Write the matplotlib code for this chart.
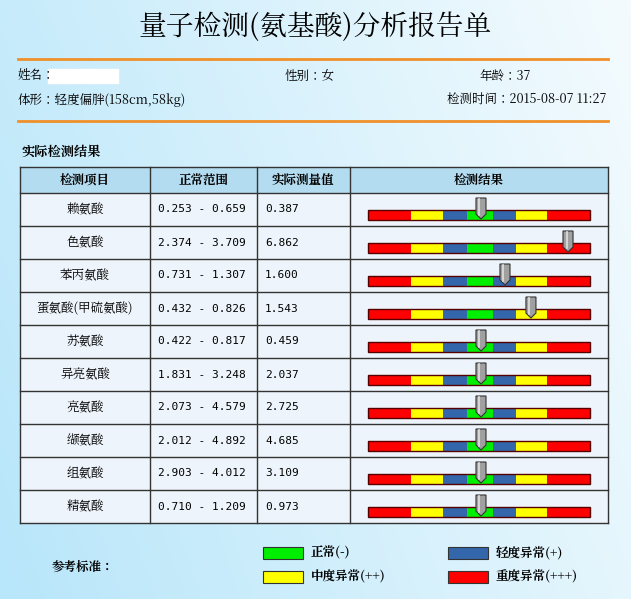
import numpy as np
import matplotlib
matplotlib.use("Agg")
import matplotlib.pyplot as plt
from matplotlib import font_manager as fm
from matplotlib.patches import Rectangle, Polygon
from matplotlib.colors import LinearSegmentedColormap

cjk = [f.name for f in fm.fontManager.ttflist if 'CJK' in f.name]
pref = [n for n in cjk if 'SC' in n] or cjk
plt.rcParams['font.family'] = (pref[:1] if pref else []) + ['DejaVu Sans']

items = ["赖氨酸", "色氨酸", "苯丙氨酸", "蛋氨酸(甲硫氨酸)", "苏氨酸", "异亮氨酸",
         "亮氨酸", "缬氨酸", "组氨酸", "精氨酸"]
ranges = ["0.253 - 0.659", "2.374 - 3.709", "0.731 - 1.307", "0.432 - 0.826",
          "0.422 - 0.817", "1.831 - 3.248", "2.073 - 4.579", "2.012 - 4.892",
          "2.903 - 4.012", "0.710 - 1.209"]
values = ["0.387", "6.862", "1.600", "1.543", "0.459", "2.037", "2.725", "4.685",
          "3.109", "0.973"]
# indicator position on the scale bar (0-100)
indicator = [50.9, 90.1, 61.7, 73.4, 50.9, 50.9, 50.9, 50.9, 50.9, 50.9]
seg_bounds = [0, 19.4, 33.8, 44.6, 56.3, 66.7, 80.6, 100]
seg_colors = ["#ff0000", "#ffff00", "#3366aa", "#00ee00", "#3366aa", "#ffff00", "#ff0000"]
headers = ["检测项目", "正常范围", "实际测量值", "检测结果"]

W, H = 631, 599
fig = plt.figure(figsize=(W/100, H/100), dpi=100)
ax = fig.add_axes([0, 0, 1, 1])
ax.set_xlim(0, W); ax.set_ylim(H, 0); ax.axis('off')

yy, xx = np.mgrid[0:H:4, 0:W:4]
t = np.clip((xx / W * 0.6 + (1 - yy / H) * 0.2 + 0.1), 0, 1)
cmap = LinearSegmentedColormap.from_list("bg", ["#b8e6fa", "#f4fbfe"])
ax.imshow(t, cmap=cmap, extent=[0, W, H, 0], aspect='auto', zorder=0)

ax.text(315, 27, "量子检测(氨基酸)分析报告单", fontsize=20, ha='center', va='center')
for y in (59, 121):
    ax.plot([18, 608], [y, y], color="#f0902a", lw=2)
fs = 9
mono = 'DejaVu Sans Mono'
ax.text(18, 76, "姓名：", fontsize=fs, va='center')
ax.add_patch(Rectangle((48, 69), 70, 14, color='white', zorder=2))
ax.text(285, 76, "性别：女", fontsize=fs, va='center')
ax.text(480, 76, "年龄：37", fontsize=fs, va='center')
ax.text(18, 100, "体形：轻度偏胖(158cm,58kg)", fontsize=fs, va='center')
ax.text(606, 100, "检测时间：2015-08-07 11:27", fontsize=fs, va='center', ha='right')
ax.text(22, 153, "实际检测结果", fontsize=9.5, va='center', weight='bold')

cols = [20, 150, 257, 350, 608]
top, hh, rh = 167, 26, 33
ax.add_patch(Rectangle((20, top), 588, hh, fc="#b4dcf0", ec='none', zorder=1))
ax.add_patch(Rectangle((20, top+hh), 588, rh*len(items), fc="#eef4fb", ec='none', zorder=1))
for i, h in enumerate(headers):
    ax.text((cols[i]+cols[i+1])/2, top+hh/2, h, fontsize=9, ha='center', va='center', weight='bold')
bottom = top + hh + rh*len(items)
for x in cols:
    ax.plot([x, x], [top, bottom], color="#333333", lw=1, zorder=3)
ax.plot([20, 608], [top, top], color="#333333", lw=1, zorder=3)
for i in range(len(items)+1):
    y = top + hh + rh*i
    ax.plot([20, 608], [y, y], color="#333333", lw=1, zorder=3)

bx0, bx1 = 368, 590
sc = (bx1 - bx0) / 100
for i in range(len(items)):
    ry = top + hh + rh*i
    cy = ry + rh/2
    ax.text((cols[0]+cols[1])/2, cy, items[i], fontsize=9, ha='center', va='center')
    ax.text(158, cy, ranges[i], fontsize=8, ha='left', va='center', family=mono)
    ax.text(265, cy, values[i], fontsize=8, ha='left', va='center', family=mono)
    for j in range(len(seg_colors)):
        ax.add_patch(Rectangle((bx0+seg_bounds[j]*sc, ry+17), (seg_bounds[j+1]-seg_bounds[j])*sc, 10,
                               fc=seg_colors[j], ec='none', zorder=4))
    ax.add_patch(Rectangle((bx0, ry+17), bx1-bx0, 10, fc='none', ec='#550000', lw=1, zorder=5))
    mx = bx0 + indicator[i]*sc
    ax.add_patch(Polygon([(mx-5, ry+5), (mx+5, ry+5), (mx+5, ry+21), (mx, ry+26), (mx-5, ry+21)],
                         fc="#a0a0a0", ec="#333333", lw=0.8, zorder=6))
    ax.plot([mx-1.5, mx-1.5], [ry+6, ry+22], color="#e0e0e0", lw=1.2, zorder=7)

ax.text(52, 567, "参考标准：", fontsize=9, va='center', weight='bold')
leg = [(263, 553, "#00ee00", "正常(-)"), (448, 553, "#3366aa", "轻度异常(+)"),
       (263, 577, "#ffff00", "中度异常(++)"), (448, 577, "#ff0000", "重度异常(+++)")]
for x, y, c, s in leg:
    ax.add_patch(Rectangle((x, y-6), 40, 12, fc=c, ec='#333333', lw=0.8, zorder=4))
    ax.text(x+48, y, s, fontsize=9, va='center', weight='bold')

fig.savefig("out.png", dpi=100)
